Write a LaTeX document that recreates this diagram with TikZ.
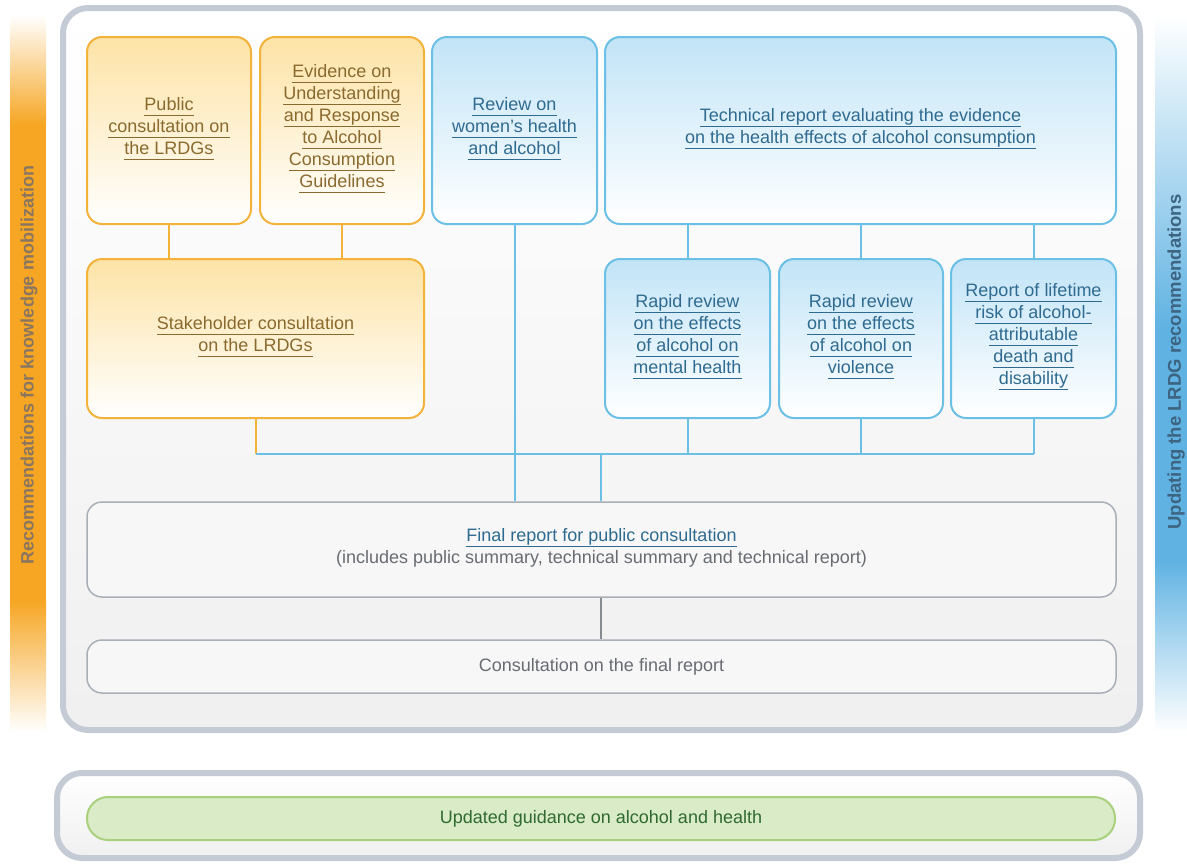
\documentclass[tikz,border=0pt]{standalone}
\usepackage{fontspec}
\setmainfont{Liberation Sans}
\usepackage{xcolor}

\definecolor{kmorange}{HTML}{F6A623}
\definecolor{kmtext}{HTML}{8A7660}
\definecolor{upblue}{HTML}{5FB2E2}
\definecolor{uptext}{HTML}{3D6480}
\definecolor{obord}{HTML}{F3B33A}
\definecolor{ofill}{HTML}{FDE3A6}
\definecolor{otext}{HTML}{8A6A2E}
\definecolor{bbord}{HTML}{6DC0E5}
\definecolor{bfill}{HTML}{C2E4F7}
\definecolor{btext}{HTML}{2F6B90}
\definecolor{gbord}{HTML}{A9AFB8}
\definecolor{gtext}{HTML}{686C72}
\definecolor{frame}{HTML}{C4CBD5}
\definecolor{gfill}{HTML}{D9EBC7}
\definecolor{gline}{HTML}{A8D07D}
\definecolor{gtxt}{HTML}{2F6A30}

\newcommand{\lnk}[1]{\underline{\smash{#1}\vphantom{y}}}

\begin{document}
\begin{tikzpicture}[x=1pt, y=-1pt]
            \tikzstyle{orangebox} = [draw=obord, line width=2pt, rounded corners=15pt, top color=ofill, bottom color=white, align=center, text=otext, font=\fontsize{18}{22}\selectfont]
            \tikzstyle{bluebox} = [draw=bbord, line width=2pt, rounded corners=15pt, top color=bfill, bottom color=white, align=center, text=btext, font=\fontsize{18}{22}\selectfont]
            \tikzstyle{graybox} = [draw=gbord, line width=1.5pt, rounded corners=15pt, fill=gray!6, align=center, text=gtext, font=\fontsize{18}{22}\selectfont]
            \tikzstyle{frame} = [draw=frame, line width=6pt, rounded corners=25pt, top color=white, bottom color=gray!12]
            \tikzstyle{oline} = [draw=obord, line width=2pt]
            \tikzstyle{bline} = [draw=bbord, line width=2pt]
            \tikzstyle{gline} = [draw=gbord!80!black, line width=2pt]
            \useasboundingbox (0,0) rectangle (1187,863);
            % side bars
            \shade[top color=white, bottom color=kmorange] (10,15) rectangle (46,125);
            \fill[kmorange] (10,125) rectangle (46,600);
            \shade[top color=kmorange, bottom color=white] (10,600) rectangle (46,732);
            \node[rotate=90, text=kmtext, font=\bfseries\fontsize{18}{22}\selectfont] (kmob) at (29,365) {Recommendations for knowledge mobilization};
            \shade[top color=white, bottom color=upblue] (1155,15) rectangle (1187,330);
            \fill[upblue] (1155,330) rectangle (1187,560);
            \shade[top color=upblue, bottom color=white] (1155,560) rectangle (1187,732);
            \node[rotate=90, text=uptext, font=\bfseries\fontsize{18.5}{22}\selectfont] (lrdg) at (1176,362) {Updating the LRDG recommendations};
            % frames
            \path[frame] (63,8) rectangle (1140,730);
            \path[frame] (57,773) rectangle (1140,858);
            % top row
            \node[orangebox, minimum width=164, minimum height=187] (pub) at (169,130.5) {\lnk{Public}\\\lnk{consultation on}\\\lnk{the LRDGs}};
            \node[orangebox, minimum width=164, minimum height=187] (evid) at (342,130.5) {\lnk{Evidence on}\\\lnk{Understanding}\\\lnk{and Response}\\\lnk{to Alcohol}\\\lnk{Consumption}\\\lnk{Guidelines}};
            \node[bluebox, minimum width=165, minimum height=187] (rev) at (514.5,130.5) {\lnk{Review on}\\\lnk{women's health}\\\lnk{and alcohol}};
            \node[bluebox, minimum width=511, minimum height=187] (tech) at (860.5,130.5) {\lnk{Technical report evaluating the evidence}\\\lnk{on the health effects of alcohol consumption}};
            % second row
            \node[orangebox, minimum width=337, minimum height=159] (stake) at (255.5,338.5) {\lnk{Stakeholder consultation}\\\lnk{on the LRDGs}};
            \node[bluebox, minimum width=165, minimum height=159] (rr1) at (687.5,338.5) {\lnk{Rapid review}\\\lnk{on the effects}\\\lnk{of alcohol on}\\\lnk{mental health}};
            \node[bluebox, minimum width=164, minimum height=159] (rr2) at (861,338.5) {\lnk{Rapid review}\\\lnk{on the effects}\\\lnk{of alcohol on}\\\lnk{violence}};
            \node[bluebox, minimum width=165, minimum height=159] (rep) at (1033.5,338.5) {\lnk{Report of lifetime}\\\lnk{risk of alcohol-}\\\lnk{attributable}\\\lnk{death and}\\\lnk{disability}};
            % lower rows
            \node[graybox, minimum width=1029, minimum height=95] (final) at (601.5,549.5) {\textcolor{btext}{\lnk{Final report for public consultation}}\\(includes public summary, technical summary and technical report)};
            \node[graybox, minimum width=1029, minimum height=53] (consult) at (601.5,666.5) {Consultation on the final report};
            \node[draw=gline, line width=2pt, rounded corners=21pt, fill=gfill, text=gtxt, font=\fontsize{18}{22}\selectfont, minimum width=1028, minimum height=43] (upd) at (601,818.5) {Updated guidance on alcohol and health};
            % connectors
            \draw[oline] (pub.south) -- (pub.south |- stake.north);
            \draw[oline] (evid.south) -- (evid.south |- stake.north);
            \draw[bline] (tech.south -| rr1) -- (rr1.north);
            \draw[bline] (tech.south -| rr2) -- (rr2.north);
            \draw[bline] (tech.south -| rep) -- (rep.north);
            \draw[oline] (stake.south) -- ++(0,35) coordinate (busL);
            \draw[bline] (busL) -- (busL -| rep.south);
            \draw[bline] (rr1.south) -- (rr1.south |- busL);
            \draw[bline] (rr2.south) -- (rr2.south |- busL);
            \draw[bline] (rep.south) -- (rep.south |- busL);
            \draw[bline] (rev.south) -- (rev.south |- final.north);
            \coordinate (drop) at (601,453);
            \draw[bline] (drop) -- (drop |- final.north);
            \draw[gline] (final.south -| drop) -- (consult.north -| drop);
\end{tikzpicture}
\end{document}
